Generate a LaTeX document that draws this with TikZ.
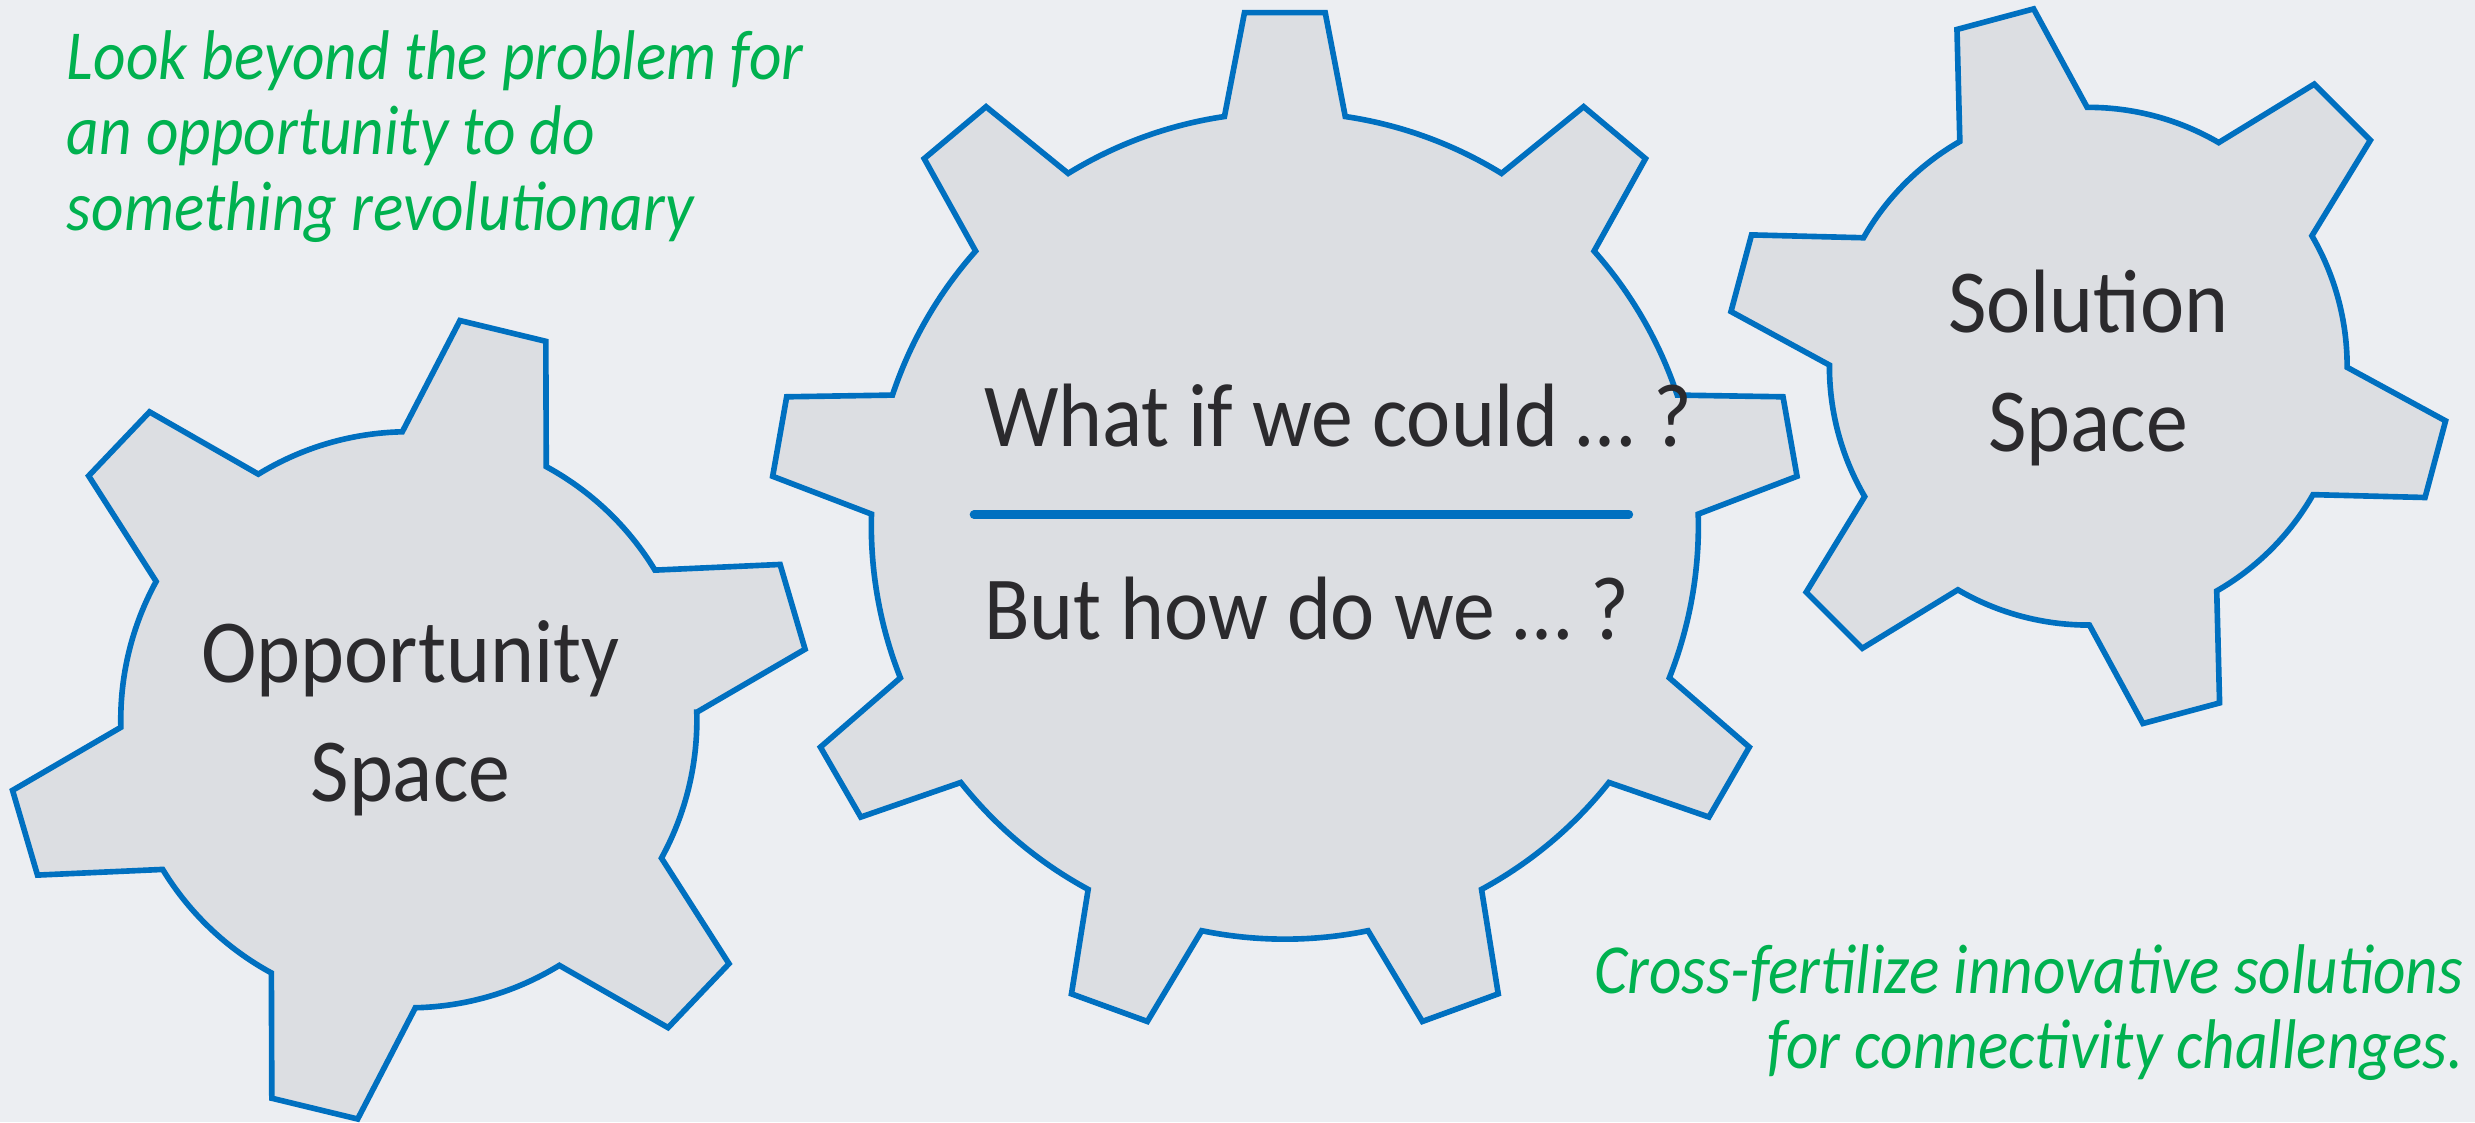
\documentclass[tikz,border=0pt]{standalone}
\usepackage{fontspec}
\setmainfont{Carlito}
\newfontfamily\notefont[FakeStretch=0.9]{Carlito}
\newfontfamily\bigfont[FakeStretch=0.93]{Carlito}
\usetikzlibrary{positioning}

\definecolor{pagebg}{HTML}{ECEEF2}
\definecolor{gearfill}{HTML}{DCDEE2}
\definecolor{gearline}{HTML}{0070C0}
\definecolor{notegreen}{HTML}{00B14F}
\definecolor{darktext}{HTML}{2B2A2D}

% gear outline: centre, teeth, first tooth angle, root radius, tip radius, half angle at root, half angle at tip
\newcommand{\gearoutline}[7]{%
  \begin{scope}[shift={#1}]
    \draw[gear] (#3-#6:#4)
      \foreach \k in {1,...,#2}{
        -- ({#3+(\k-1)*360/#2-#7}:#5) -- ({#3+(\k-1)*360/#2+#7}:#5)
        -- ({#3+(\k-1)*360/#2+#6}:#4)
        arc[start angle={#3+(\k-1)*360/#2+#6}, end angle={#3+\k*360/#2-#6}, radius=#4]
      } -- cycle;
  \end{scope}}

\begin{document}
\begin{tikzpicture}[
		x = 0.015784cm, y = 0.015784cm, % one unit = one pixel of the sketch
		gear/.style = {fill=gearfill, draw=gearline, line width=1.6pt, line join=miter},
		note/.style = {text=notegreen, inner sep=0pt, font=\notefont\fontsize{20}{21.4}\selectfont\itshape},
		bigtext/.style = {text=darktext, inner sep=0pt, font=\bigfont\fontsize{25.6}{34}\selectfont},
		divider/.style = {draw=gearline, line width=2.4pt, line cap=round}
		]
		
		\fill[pagebg] (0,0) rectangle (1568,711);
		\useasboundingbox (0,0) rectangle (1568,711);
		
		% the three gears
		\gearoutline{(259,255)}{6}{16.4}{182.5}{255}{14.9}{6.3}
		\gearoutline{(1323,479)}{6}{-15}{164}{229}{14.75}{6.3}
		\gearoutline{(814,378)}{9}{90}{262}{326}{8.4}{4.5}
		
		% texts
		\node[note, align=left, anchor=north west] (lookbeyond) at (42,692) {Look beyond the problem for\\an opportunity to do\\something revolutionary};
		\node[note, align=right, anchor=north east] (crossfert) at (1561,113) {Cross-fertilize innovative solutions\\for connectivity challenges.};
		
		\node[bigtext, anchor=base west] (whatif) at (623,428) {What if we could \ldots{} ?};
		\node[bigtext, anchor=base west] (howdo) at (623,306) {But how do we \ldots{} ?};
		\coordinate (divl) at (617,385);
		\coordinate (divr) at (1032,385);
		\draw[divider] (divl) -- (divr);
		
		\node[bigtext, align=center] (opportunity) at (260,256) {Opportunity\\Space};
		\node[bigtext, align=center] (solution) at (1323,478) {Solution\\Space};
		
	\end{tikzpicture}
\end{document}
